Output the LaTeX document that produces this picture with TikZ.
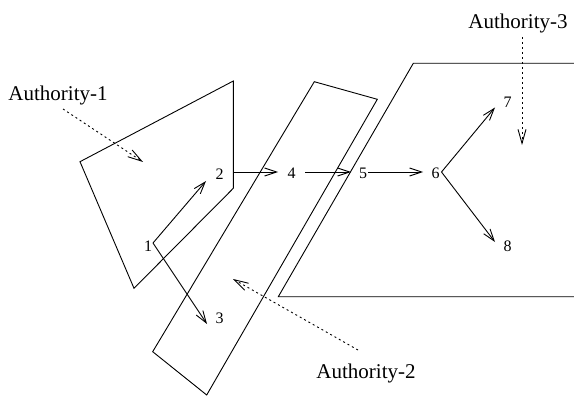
\documentclass[tikz,border=0pt]{standalone}
\usepackage{fontspec}
\setmainfont{Liberation Serif}
\usetikzlibrary{arrows.meta,calc}
\begin{document}
\begin{tikzpicture}[x=1pt,y=-1pt,
  region/.style={line width=0.9pt,line join=miter},
  arr/.style={line width=0.9pt,-{Straight Barb[length=12pt,width=8pt,line width=0.9pt]}},
  darr/.style={line width=0.9pt,dash pattern=on 2pt off 3pt,-{Straight Barb[length=14pt,width=8pt,line width=0.9pt]}},
  num/.style={inner sep=0pt,font=\fontsize{16}{19}\selectfont},
  lab/.style={inner sep=0pt,font=\fontsize{21}{25}\selectfont}]
\useasboundingbox (0,0) rectangle (574,396);
% regions
\draw[region] (80,161.7) -- (233.3,81) -- (233.3,188.3) -- (134,288.3) -- cycle;
\draw[region] (314.3,81.7) -- (377.3,99.3) -- (206.7,395) -- (152.7,351.7) -- cycle;
\draw[region] (574,63.3) -- (413.3,63.3) -- (278.3,296.7) -- (574,296.7);
% numbered nodes
\node[num] (n1) at (148,246) {1};
\node[num] (n2) at (219.5,174.5) {2};
\node[num] (n3) at (219.5,318) {3};
\node[num] (n4) at (291.5,173.5) {4};
\node[num] (n5) at (363,173) {5};
\node[num] (n6) at (435.5,173) {6};
\node[num] (n7) at (507.5,102.5) {7};
\node[num] (n8) at (507.5,246.5) {8};
% connectors
\draw[arr] ($(n1)+(5,-3)$) -- ($(n2)+(-13.5,6.5)$);
\draw[arr] ($(n1)+(5,-3)$) -- ($(n3)+(-12.5,6)$);
\draw[arr] ($(n2)+(13.8,-2.5)$) -- ($(n4)+(-13.5,-1.5)$);
\draw[arr] ($(n4)+(13.5,-1.5)$) -- ($(n5)+(-12,-1)$);
\draw[arr] ($(n5)+(5,-1)$) -- ($(n6)+(-12.5,-1)$);
\draw[arr] ($(n6)+(6,-1)$) -- ($(n7)+(-12.5,5)$);
\draw[arr] ($(n6)+(6,-1)$) -- ($(n8)+(-12.5,-4.5)$);
% authority labels
\node[lab] (a1) at (58,95) {Authority-1};
\node[lab] (a2) at (366,373) {Authority-2};
\node[lab] (a3) at (518,23) {Authority-3};
\coordinate (t1) at (143,162);
\coordinate (t2) at (233,279);
\coordinate (t3) at (522,145);
\draw[darr] ($(a1)+(5,14)$) -- (t1);
\draw[darr] ($(a2)+(-8,-23)$) -- (t2);
\draw[darr] ($(a3)+(4,14)$) -- (t3);
\end{tikzpicture}
\end{document}
